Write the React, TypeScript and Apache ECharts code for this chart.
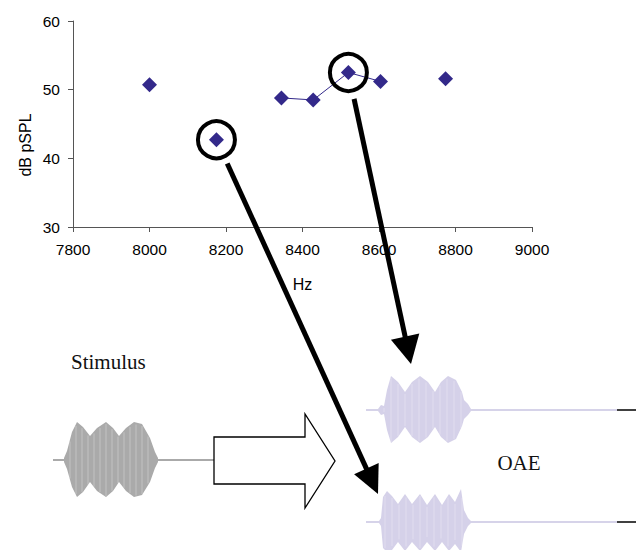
import React, { useEffect, useRef } from "react";
import * as echarts from "echarts";

// Scatter data (Hz, dB pSPL)
const freqHz = [8000, 8175, 8345, 8428, 8520, 8604, 8774];
const levelDb = [50.7, 42.7, 48.8, 48.5, 52.5, 51.2, 51.6];
// Points joined by a line
const joinedHz = [8345, 8428, 8520, 8604];
const joinedDb = [48.8, 48.5, 52.5, 51.2];
// Circled points
const circledHz = [8175, 8520];
const circledDb = [42.7, 52.5];
// Axis ticks
const xTicks = [7800, 8000, 8200, 8400, 8600, 8800, 9000];
const yTicks = [30, 40, 50, 60];

// Illustration envelopes: [x, upper amplitude, lower amplitude]
const stimulusEnv: number[][] = [
  [64, 2, 2], [67, 9, 9], [72, 28, 27], [77, 38, 37], [83, 33, 32], [90, 24, 22],
  [97, 32, 31], [106, 38, 37], [113, 32, 31], [119, 24, 22], [126, 32, 31],
  [134, 38, 37], [142, 36, 35], [150, 22, 22], [155, 8, 8], [158, 2, 2],
];
const oaeTopEnv: number[][] = [
  [378, 1, 1], [381, 5, 5], [384, 4, 4], [387, 20, 20], [391, 34, 33], [398, 28, 27],
  [405, 18, 17], [412, 28, 27], [420, 34, 33], [428, 28, 27], [435, 18, 17],
  [441, 28, 27], [448, 34, 33], [456, 30, 29], [462, 18, 16], [464, 10, 9],
  [468, 6, 5], [471, 1, 1],
];
const oaeBottomEnv: number[][] = [
  [379, 1, 1], [381, 4, 4], [383, 25, 26], [387, 31, 30], [392, 26, 28], [398, 18, 20],
  [405, 28, 29], [412, 18, 20], [420, 28, 29], [427, 17, 20], [435, 28, 29],
  [442, 17, 20], [449, 28, 29], [455, 20, 22], [461, 33, 30], [464, 12, 12],
  [468, 4, 4], [471, 1, 1],
];

const SANS = "'Liberation Sans', Arial, sans-serif";
const SERIF = "'Liberation Serif', 'Times New Roman', serif";
const DOT = "#33298a";

function envelopePolygon(env: number[][], base: number, color: string) {
  const pts: number[][] = [];
  env.forEach((p) => pts.push([p[0], base - p[1]]));
  for (let i = env.length - 1; i >= 0; i--) pts.push([env[i][0], base + env[i][2]]);
  return { type: "polygon", shape: { points: pts }, style: { fill: color }, z: 5 };
}

function stripes(env: number[][], base: number, step: number) {
  const out: any[] = [];
  const x0 = env[0][0] + 6;
  const x1 = env[env.length - 1][0] - 6;
  for (let x = x0; x < x1; x += step) {
    let a = 0;
    for (let i = 0; i < env.length - 1; i++) {
      if (x >= env[i][0] && x <= env[i + 1][0]) {
        const t = (x - env[i][0]) / (env[i + 1][0] - env[i][0]);
        a = env[i][1] + t * (env[i + 1][1] - env[i][1]);
      }
    }
    out.push({
      type: "line",
      shape: { x1: x, y1: base - a + 2, x2: x, y2: base + a - 2 },
      style: { stroke: "#ffffff", lineWidth: 1, opacity: 0.3 },
      z: 6,
    });
  }
  return out;
}

function arrow(sx: number, sy: number, tx: number, ty: number, headLen: number, headW: number) {
  const dx = tx - sx;
  const dy = ty - sy;
  const len = Math.sqrt(dx * dx + dy * dy);
  const ux = dx / len;
  const uy = dy / len;
  const bx = tx - ux * headLen;
  const by = ty - uy * headLen;
  const px = -uy;
  const py = ux;
  return [
    {
      type: "line",
      shape: { x1: sx, y1: sy, x2: bx + ux * 2, y2: by + uy * 2 },
      style: { stroke: "#000", lineWidth: 5 },
      z: 20,
    },
    {
      type: "polygon",
      shape: {
        points: [
          [tx, ty],
          [bx + px * headW / 2, by + py * headW / 2],
          [bx - px * headW / 2, by - py * headW / 2],
        ],
      },
      style: { fill: "#000" },
      z: 20,
    },
  ];
}

export default function App() {
  const ref = useRef<HTMLDivElement>(null);
  useEffect(() => {
    if (!ref.current) return;
    const chart = echarts.init(ref.current, null, { renderer: "svg" });
    chart.setOption({
      animation: false,
      backgroundColor: "#fff",
      grid: { left: 73, right: 107, top: 21, bottom: 323, containLabel: false },
      xAxis: {
        type: "value",
        min: xTicks[0],
        max: xTicks[xTicks.length - 1],
        interval: 200,
        name: "Hz",
        nameLocation: "middle",
        nameGap: 49,
        nameTextStyle: { fontFamily: SANS, fontSize: 16, color: "#000" },
        axisLine: { lineStyle: { color: "#555", width: 1 } },
        axisTick: { show: true, length: 5, lineStyle: { color: "#555" } },
        axisLabel: {
          fontFamily: SANS,
          fontSize: 15.5,
          color: "#000",
          margin: 14,
          formatter: (v: number) => String(v),
        },
        splitLine: { show: false },
      },
      yAxis: {
        type: "value",
        min: yTicks[0],
        max: yTicks[yTicks.length - 1],
        interval: 10,
        axisLine: { show: true, lineStyle: { color: "#555", width: 1 } },
        axisTick: { show: true, length: 5, lineStyle: { color: "#555" } },
        axisLabel: {
          fontFamily: SANS,
          fontSize: 15.5,
          color: "#000",
          margin: 13,
          formatter: (v: number) => String(v),
        },
        splitLine: { show: false },
      },
      series: [
        {
          type: "line",
          data: joinedHz.map((x, i) => [x, joinedDb[i]]),
          showSymbol: false,
          lineStyle: { color: DOT, width: 1 },
          z: 2,
        },
        {
          type: "scatter",
          data: freqHz.map((x, i) => [x, levelDb[i]]),
          symbol: "diamond",
          symbolSize: 15,
          itemStyle: { color: DOT, opacity: 1 },
          z: 3,
        },
        {
          type: "scatter",
          data: circledHz.map((x, i) => [x, circledDb[i]]),
          symbol: "circle",
          symbolSize: 37,
          itemStyle: { color: "rgba(0,0,0,0)", borderColor: "#000", borderWidth: 4, opacity: 1 },
          z: 4,
        },
      ],
    });

    const c1 = chart.convertToPixel({ seriesIndex: 2 }, [circledHz[0], circledDb[0]]) as number[];
    const c2 = chart.convertToPixel({ seriesIndex: 2 }, [circledHz[1], circledDb[1]]) as number[];
    const tip1 = [378, 494];
    const tip2 = [411, 364];
    const startFrom = (c: number[], t: number[], r: number) => {
      const dx = t[0] - c[0];
      const dy = t[1] - c[1];
      const l = Math.sqrt(dx * dx + dy * dy);
      return [c[0] + (dx / l) * r, c[1] + (dy / l) * r];
    };
    const s1 = startFrom(c1, tip1, 26);
    const s2 = startFrom(c2, tip2, 27);

    const graphic: any[] = [
      {
        type: "text",
        x: 25,
        y: 145,
        rotation: Math.PI / 2,
        style: {
          text: "dB pSPL",
          font: `16px ${SANS}`,
          fill: "#000",
          align: "center",
          verticalAlign: "middle",
        },
      },
      {
        type: "text",
        x: 71,
        y: 362,
        style: { text: "Stimulus", font: `21px ${SERIF}`, fill: "#111", align: "left", verticalAlign: "middle" },
      },
      {
        type: "text",
        x: 519,
        y: 463,
        style: { text: "OAE", font: `21px ${SERIF}`, fill: "#111", align: "center", verticalAlign: "middle" },
      },
      { type: "line", shape: { x1: 53, y1: 460, x2: 214, y2: 460 }, style: { stroke: "#aaaaaa", lineWidth: 2 }, z: 4 },
      envelopePolygon(stimulusEnv, 460, "#aaaaaa"),
      ...stripes(stimulusEnv, 460, 6),
      {
        type: "polygon",
        shape: {
          points: [[214, 437], [305, 437], [305, 414], [335, 461], [305, 508], [305, 484], [214, 484]],
        },
        style: { fill: "#fff", stroke: "#000", lineWidth: 1.3 },
        z: 5,
      },
      { type: "line", shape: { x1: 366, y1: 410, x2: 617, y2: 410 }, style: { stroke: "#c9c5e2", lineWidth: 1.5 }, z: 4 },
      { type: "line", shape: { x1: 617, y1: 410, x2: 636, y2: 410 }, style: { stroke: "#000", lineWidth: 1.5 }, z: 4 },
      { type: "line", shape: { x1: 366, y1: 522, x2: 617, y2: 522 }, style: { stroke: "#c9c5e2", lineWidth: 1.5 }, z: 4 },
      { type: "line", shape: { x1: 617, y1: 522, x2: 636, y2: 522 }, style: { stroke: "#000", lineWidth: 1.5 }, z: 4 },
      envelopePolygon(oaeTopEnv, 410, "#d5d1e9"),
      ...stripes(oaeTopEnv, 410, 7),
      envelopePolygon(oaeBottomEnv, 522, "#d5d1e9"),
      ...stripes(oaeBottomEnv, 522, 7),
      ...arrow(s1[0], s1[1], tip1[0], tip1[1], 28, 27),
      ...arrow(s2[0], s2[1], tip2[0], tip2[1], 28, 29),
    ];
    chart.setOption({ graphic });
    return () => chart.dispose();
  }, []);
  return (
    <div
      ref={ref}
      style={{ position: "fixed", left: 0, top: 0, width: 639, height: 550, background: "#fff" }}
    />
  );
}
